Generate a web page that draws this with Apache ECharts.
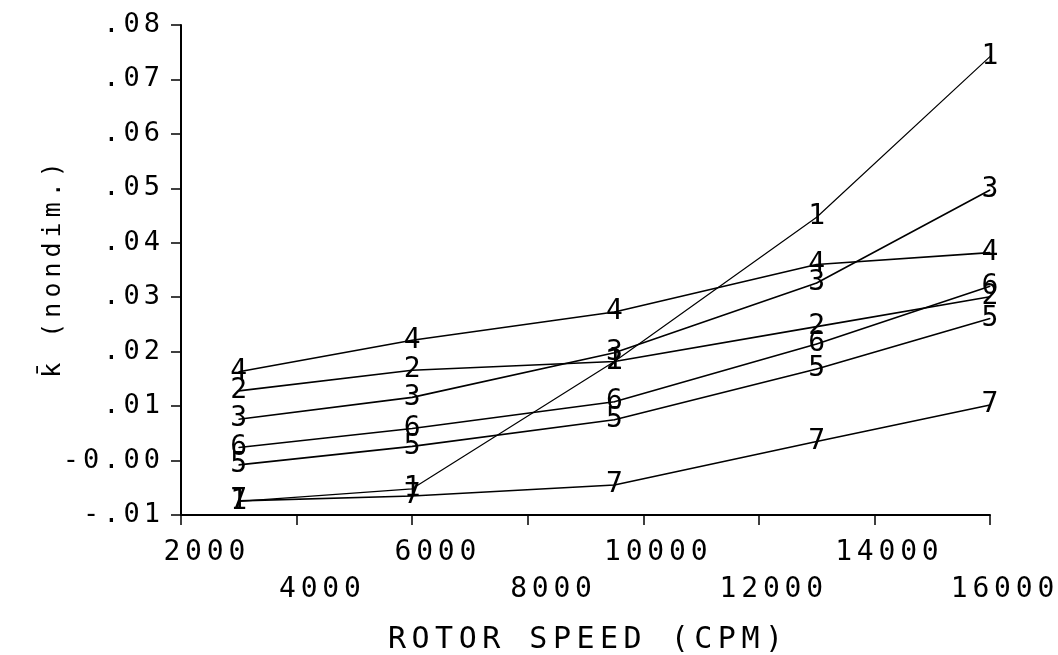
<!DOCTYPE html>
<html>
<head>
<meta charset="utf-8">
<script src="https://cdn.jsdelivr.net/npm/echarts@6/dist/echarts.min.js"></script>
<style>
  html, body { margin: 0; padding: 0; background: #fff; }
  #chart { width: 1058px; height: 655px; }
</style>
</head>
<body>
<div id="chart"></div>
<script>
// ---- data ----
const rotorSpeed = [3000, 6000, 9500, 13000, 16000];
const curve1 = [-0.0075, -0.0052, 0.0182, 0.0447, 0.0742];
const curve2 = [0.0128, 0.0166, 0.0182, 0.0246, 0.0301];
const curve3 = [0.0076, 0.0116, 0.0198, 0.0326, 0.0497];
const curve4 = [0.0163, 0.0221, 0.0273, 0.0360, 0.0382];
const curve5 = [-0.0008, 0.0026, 0.0075, 0.0168, 0.0261];
const curve6 = [0.0024, 0.0059, 0.0108, 0.0214, 0.0320];
const curve7 = [-0.0074, -0.0065, -0.0045, 0.0035, 0.0102];
const curveLabels = ['1', '2', '3', '4', '5', '6', '7'];
const xTickLabels = ['2000', '4000', '6000', '8000', '10000', '12000', '14000', '16000'];
const yTickLabels = ['-.01', '-0.00', '.01', '.02', '.03', '.04', '.05', '.06', '.07', '.08'];
const xTitle = 'ROTOR SPEED (CPM)';
const yTitle = 'k\u0304 (nondim.)';

const X_MIN = 2000, X_MAX = 16000, X_STEP = 2000;
const Y_MIN = -0.01, Y_MAX = 0.08, Y_STEP = 0.01;

const FONT = 'DejaVu Sans Mono';

// spread characters apart (plotter-style wide lettering) using rich-text spacers
function spaced(str, sp) {
  const chars = str.match(/.\u0304?/gu) || [];
  return chars.map(c => c === ' ' ? '\u00a0' : c).join('{' + sp + '|\u00a0}');
}

function xLabelText(v, row) {
  const idx = Math.round((v - X_MIN) / X_STEP);
  if (idx % 2 !== row) return '';
  let t = xTickLabels[idx] || '';
  while (t.length < 5) t = ' ' + t;
  return spaced(t, 's');
}

const allCurves = [curve1, curve2, curve3, curve4, curve5, curve6, curve7];

const series = allCurves.map((vals, k) => ({
  type: 'line',
  name: curveLabels[k],
  xAxisIndex: 0,
  data: rotorSpeed.map((x, i) => [x, vals[i]]),
  symbol: 'circle',
  symbolSize: 1,
  showSymbol: true,
  itemStyle: { color: '#000' },
  lineStyle: { color: '#000', width: k === 0 ? 1.2 : 1.6 },
  label: {
    show: true,
    position: 'inside',
    formatter: curveLabels[k],
    fontFamily: FONT,
    fontSize: 28,
    color: '#000',
    align: 'center',
    verticalAlign: 'middle'
  },
  emphasis: { disabled: true },
  silent: true,
  z: 3
}));

const xLabelBase = {
  interval: 0,
  showMinLabel: true,
  showMaxLabel: true,
  hideOverlap: false,
  fontFamily: FONT, fontSize: 28, color: '#000',
  padding: [0, 0, 0, 25],
  rich: { s: { width: 4.8, fontSize: 10 } }
};

const chart = echarts.init(document.getElementById('chart'), null, { renderer: 'canvas' });
chart.setOption({
  animation: false,
  backgroundColor: '#fff',
  grid: { left: 181, right: 68, top: 25, bottom: 140, containLabel: false, outerBoundsMode: 'none' },
  xAxis: [{
    type: 'value',
    position: 'bottom',
    min: X_MIN, max: X_MAX, interval: X_STEP,
    name: spaced(xTitle, 'g'),
    nameLocation: 'middle',
    nameGap: 110,
    nameMoveOverlap: false,
    nameTextStyle: {
      fontFamily: FONT, fontSize: 30, color: '#000',
      rich: { g: { width: 5.5, fontSize: 10 } }
    },
    axisLine: { show: true, onZero: false, lineStyle: { color: '#000', width: 2 } },
    axisTick: { show: true, inside: false, length: 10, lineStyle: { color: '#000', width: 1.5 } },
    splitLine: { show: false },
    axisLabel: Object.assign({}, xLabelBase, {
      margin: 24,
      formatter: function (v) { return xLabelText(v, 0); }
    })
  }, {
    type: 'value',
    position: 'bottom',
    offset: 0,
    min: X_MIN, max: X_MAX, interval: X_STEP,
    axisLine: { show: false, onZero: false },
    axisTick: { show: false },
    splitLine: { show: false },
    axisLabel: Object.assign({}, xLabelBase, {
      margin: 61,
      formatter: function (v) { return xLabelText(v, 1); }
    })
  }],
  yAxis: {
    type: 'value',
    min: Y_MIN, max: Y_MAX, interval: Y_STEP,
    name: spaced(yTitle, 'g'),
    nameLocation: 'middle',
    nameRotate: 90,
    nameGap: 115,
    nameMoveOverlap: false,
    nameTextStyle: {
      fontFamily: FONT, fontSize: 25, color: '#000',
      rich: { g: { width: 5, fontSize: 10 } }
    },
    axisLine: { show: true, onZero: false, lineStyle: { color: '#000', width: 2 } },
    axisTick: { show: true, inside: false, length: 10, lineStyle: { color: '#000', width: 1.5 } },
    splitLine: { show: false },
    axisLabel: {
      margin: 21,
      showMinLabel: true,
      showMaxLabel: true,
      fontFamily: FONT, fontSize: 27, color: '#000',
      formatter: function (v) {
        const idx = Math.round((v - Y_MIN) / Y_STEP);
        return spaced(yTickLabels[idx] || '', 's');
      },
      rich: { s: { width: 4, fontSize: 10 } }
    }
  },
  series: series
});
</script>
</body>
</html>
